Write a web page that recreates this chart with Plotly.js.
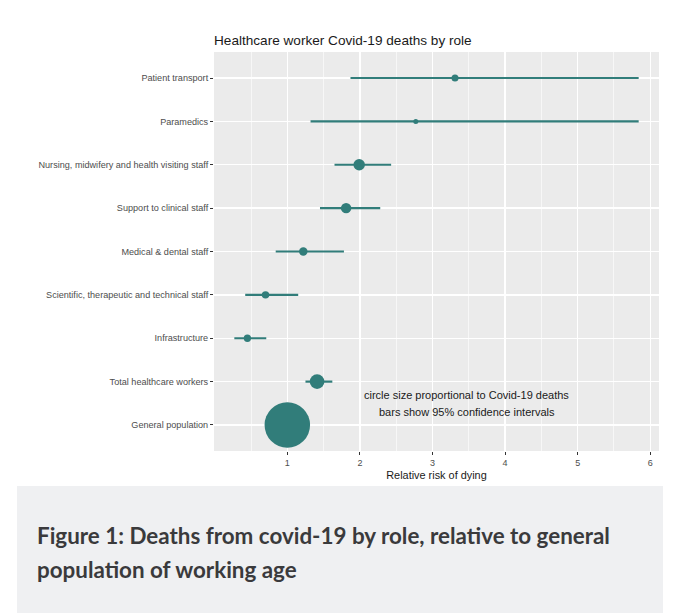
<!DOCTYPE html>
<html>
<head>
<meta charset="utf-8">
<script src="https://cdn.plot.ly/plotly-3.0.1.min.js"></script>
<style>
  html, body { margin: 0; padding: 0; background: #ffffff; }
  #chart { width: 680px; height: 613px; }
</style>
</head>
<body>
<div id="chart"></div>
<script>
// Categories, top to bottom
const roles = [
  "Patient transport",
  "Paramedics",
  "Nursing, midwifery and health visiting staff",
  "Support to clinical staff",
  "Medical & dental staff",
  "Scientific, therapeutic and technical staff",
  "Infrastructure",
  "Total healthcare workers",
  "General population"
];
// Relative risk of dying (point estimate)
const relRisk = [3.31, 2.77, 1.99, 1.81, 1.22, 0.70, 0.45, 1.41, 1.00];
// 95% confidence interval bounds
const ciLow  = [1.87, 1.32, 1.65, 1.45, 0.84, 0.42, 0.27, 1.25, 1.00];
const ciHigh = [5.84, 5.84, 2.43, 2.28, 1.78, 1.15, 0.71, 1.62, 1.00];
// Covid-19 deaths (relative units, read from circle areas)
const relDeaths = [49, 25, 132, 110, 72, 56, 53, 216, 2070];
// x-axis ticks
const xTicks = [1, 2, 3, 4, 5, 6];

const teal = "#317d7a";

const errPlus = relRisk.map((v, i) => ciHigh[i] - v);
const errMinus = relRisk.map((v, i) => v - ciLow[i]);

const trace = {
  type: "scatter",
  mode: "markers",
  x: relRisk,
  y: roles,
  marker: {
    color: teal,
    size: relDeaths,
    sizemode: "area",
    sizeref: 2,
    line: { width: 0 },
    opacity: 1
  },
  error_x: {
    type: "data",
    symmetric: false,
    array: errPlus,
    arrayminus: errMinus,
    color: teal,
    thickness: 2.2,
    width: 0
  },
  hoverinfo: "x+y",
  showlegend: false
};

// plot area in px: left 214, right 659, top 52, bottom 451
const L = 214, R = 659, T = 52, B = 451;
const pw = R - L, ph = B - T;
const px = v => (v - L) / pw;
const py = v => (B - v) / ph;

const layout = {
  width: 680,
  height: 613,
  margin: { l: L, r: 680 - R, t: T, b: 613 - B, pad: 0 },
  paper_bgcolor: "#ffffff",
  plot_bgcolor: "#ebebeb",
  font: { family: "Liberation Sans, Arial, sans-serif", color: "#4d4d4d" },
  title: {
    text: "Healthcare worker Covid-19 deaths by role",
    font: { family: "Liberation Sans, Arial, sans-serif", size: 13.6, color: "#1a1a1a" },
    x: 0, xref: "paper", xanchor: "left",
    y: 1 - 40 / 613, yref: "container", yanchor: "middle"
  },
  xaxis: {
    range: [-0.01, 6.12],
    tickvals: xTicks,
    ticktext: xTicks.map(String),
    showgrid: true,
    gridcolor: "#ffffff",
    gridwidth: 1.3,
    minor: { dtick: 0.5, tick0: 0.5, showgrid: true, gridcolor: "#ffffff", gridwidth: 0.6 },
    zeroline: false,
    showline: false,
    ticks: "outside",
    ticklen: 3,
    tickwidth: 1,
    tickcolor: "#333333",
    tickfont: { size: 9, color: "#4d4d4d" },
    title: {
      text: "Relative risk of dying",
      font: { size: 10.9, color: "#1a1a1a" },
      standoff: 4
    },
    fixedrange: true
  },
  yaxis: {
    type: "category",
    categoryorder: "array",
    categoryarray: roles,
    range: [8.6, -0.6],
    showgrid: true,
    gridcolor: "#ffffff",
    gridwidth: 1.3,
    zeroline: false,
    showline: false,
    ticks: "outside",
    ticklen: 3,
    tickwidth: 1,
    tickcolor: "#333333",
    tickfont: { size: 9.1, color: "#4d4d4d" },
    fixedrange: true
  },
  annotations: [
    {
      text: "circle size proportional to Covid-19 deaths",
      x: 3.47, y: 7.32, xref: "x", yref: "y",
      showarrow: false, xanchor: "center", yanchor: "middle",
      font: { size: 11, color: "#1a1a1a" }
    },
    {
      text: "bars show 95% confidence intervals",
      x: 3.47, y: 7.71, xref: "x", yref: "y",
      showarrow: false, xanchor: "center", yanchor: "middle",
      font: { size: 11, color: "#1a1a1a" }
    },
    {
      text: "<b>Figure 1: Deaths from covid-19 by role, relative to general</b>",
      x: px(35), y: py(535), xref: "paper", yref: "paper",
      showarrow: false, xanchor: "left", yanchor: "middle",
      font: { family: "Lato, sans-serif", size: 22.4, color: "#3a3a3c" }
    },
    {
      text: "<b>population of working age</b>",
      x: px(35), y: py(569), xref: "paper", yref: "paper",
      showarrow: false, xanchor: "left", yanchor: "middle",
      font: { family: "Lato, sans-serif", size: 22.4, color: "#3a3a3c" }
    }
  ],
  shapes: [
    {
      type: "rect", layer: "below",
      xref: "paper", yref: "paper",
      x0: px(17), x1: px(663), y0: py(613), y1: py(486),
      fillcolor: "#eff0f2", line: { width: 0 }
    }
  ]
};

Plotly.newPlot("chart", [trace], layout, { displayModeBar: false, staticPlot: true });
</script>
</body>
</html>
